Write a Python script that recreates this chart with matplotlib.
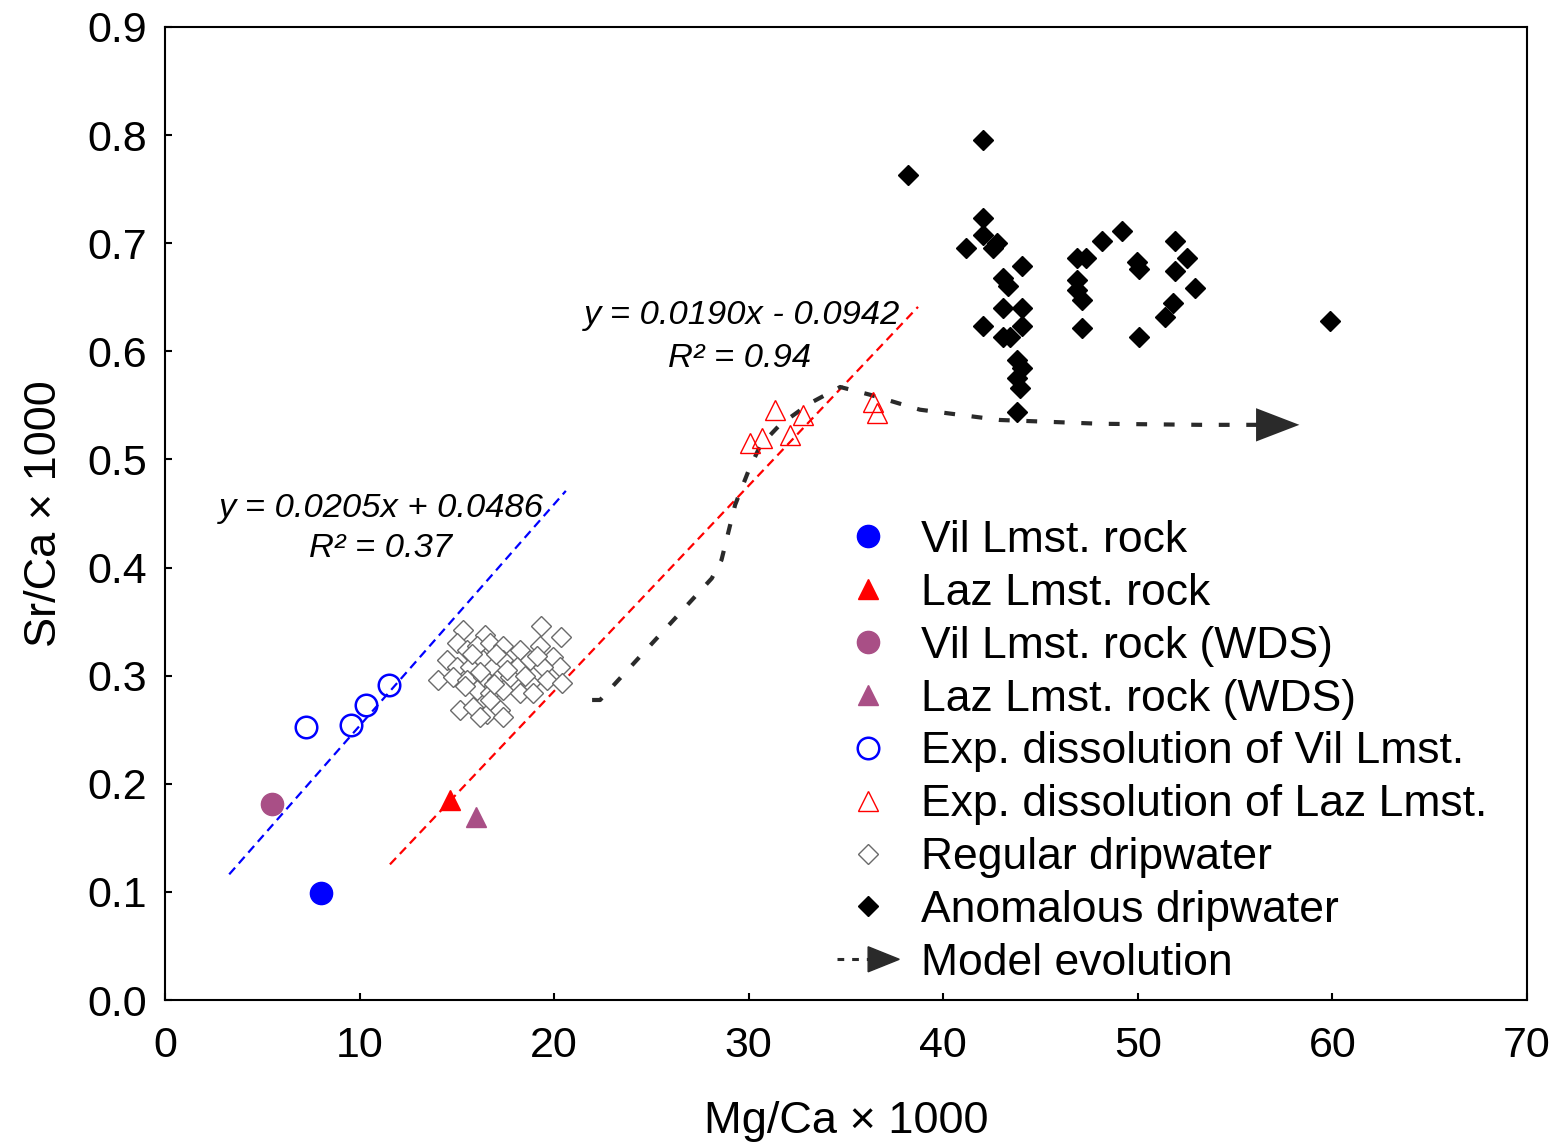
import matplotlib.pyplot as plt
from matplotlib.lines import Line2D
from matplotlib.patches import Polygon
from matplotlib.legend_handler import HandlerBase

plt.rcParams['font.family'] = ['Liberation Sans', 'DejaVu Sans']

# 岩石样品
vil_rock_x = [8.0]
vil_rock_y = [0.099]
laz_rock_x = [14.65]
laz_rock_y = [0.185]
vil_wds_x = [5.5]
vil_wds_y = [0.181]
laz_wds_x = [16.0]
laz_wds_y = [0.169]

# 溶解实验
exp_vil_x = [7.25, 9.56, 10.33, 11.5]
exp_vil_y = [0.2525, 0.254, 0.273, 0.291]
exp_laz_x = [30.07, 30.7, 31.35, 32.1, 32.8, 36.4, 36.6]
exp_laz_y = [0.515, 0.52, 0.546, 0.523, 0.541, 0.553, 0.543]

# 常规滴水
reg_x = [19.32, 20.35, 15.32, 16.45, 15.01, 15.52, 16.04, 16.70, 17.37, 18.25, 19.27,
         19.94, 20.30, 14.49, 15.01, 15.68, 16.34, 16.86, 17.37, 18.09, 18.76, 19.43,
         14.03, 14.80, 15.52, 16.34, 17.06, 17.73, 18.76, 19.63, 20.40, 16.04, 16.70,
         17.37, 18.25, 18.91, 15.16, 15.83, 16.55, 17.22, 17.37, 16.19, 16.70,
         15.80, 16.20, 17.00, 17.60, 18.50, 19.10, 15.40, 16.90]
reg_y = [0.346, 0.336, 0.342, 0.338, 0.330, 0.324, 0.327, 0.330, 0.327, 0.324, 0.327,
         0.317, 0.308, 0.3145, 0.308, 0.308, 0.3145, 0.308, 0.3145, 0.308, 0.3145, 0.308,
         0.296, 0.299, 0.296, 0.299, 0.296, 0.299, 0.293, 0.296, 0.293, 0.287, 0.284,
         0.287, 0.284, 0.284, 0.268, 0.271, 0.265, 0.268, 0.262, 0.262, 0.2775,
         0.320, 0.303, 0.320, 0.305, 0.300, 0.318, 0.290, 0.292]

# 异常滴水
anom_x = [38.19, 42.04, 42.04, 42.04, 41.17, 42.76, 42.56, 44.05, 43.07, 43.33, 43.07,
          44.05, 42.04, 44.05, 43.07, 43.43, 43.79, 44.05, 43.79, 43.94, 43.79, 46.87,
          47.33, 46.87, 46.87, 47.13, 47.13, 48.16, 49.19, 49.96, 50.06, 50.06, 51.91,
          52.53, 51.91, 52.94, 51.81, 51.40, 59.88]
anom_y = [0.763, 0.795, 0.723, 0.708, 0.696, 0.700, 0.696, 0.679, 0.668, 0.660, 0.640,
          0.640, 0.623, 0.623, 0.613, 0.613, 0.592, 0.585, 0.575, 0.566, 0.544, 0.686,
          0.686, 0.666, 0.657, 0.6475, 0.6216, 0.702, 0.711, 0.683, 0.676, 0.613, 0.702,
          0.686, 0.674, 0.659, 0.645, 0.632, 0.628]

# 模型演化
model_x = [21.95, 22.36, 28.1, 28.6, 29.3, 30.0, 30.6, 31.6, 33.15, 34.7, 36.2, 38.8,
           42.9, 48.05, 53.2, 58.3]
model_y = [0.2775, 0.2775, 0.390, 0.407, 0.458, 0.490, 0.513, 0.532, 0.552, 0.567,
           0.560, 0.546, 0.5365, 0.533, 0.532, 0.532]

# 拟合线: 斜率, 截距, x范围
vil_slope, vil_icpt, vil_x0, vil_x1 = 0.0205, 0.0486, 3.3, 20.6
laz_slope, laz_icpt, laz_x0, laz_x1 = 0.0190, -0.0942, 11.56, 38.7

xticks = [0, 10, 20, 30, 40, 50, 60, 70]
yticks = [0.0, 0.1, 0.2, 0.3, 0.4, 0.5, 0.6, 0.7, 0.8, 0.9]

BLUE = '#0000ff'
RED = '#ff0000'
PURPLE = '#a94f86'
DARK = '#2a2a2a'


class ArrowHandler(HandlerBase):
    # 图例里画 虚线+箭头
    def create_artists(self, legend, orig_handle, xdescent, ydescent, width, height, fontsize, trans):
        x0 = -xdescent
        y = height / 2 - ydescent
        line = Line2D([x0, x0 + width * 0.55], [y, y], color=DARK, lw=2.2,
                      dashes=(2.2, 2.6), transform=trans)
        head = Polygon([[x0 + width * 0.5, y - 9], [x0 + width, y], [x0 + width * 0.5, y + 9]],
                       closed=True, color=DARK, transform=trans)
        return [line, head]


fig = plt.figure(figsize=(15.67, 11.43), dpi=100)
ax = fig.add_axes([0.1053, 0.1251, 0.8692, 0.8513])

# 拟合线
ax.plot([vil_x0, vil_x1], [vil_slope * vil_x0 + vil_icpt, vil_slope * vil_x1 + vil_icpt],
        color=BLUE, lw=1.6, dashes=(4, 2.5), zorder=2)
ax.plot([laz_x0, laz_x1], [laz_slope * laz_x0 + laz_icpt, laz_slope * laz_x1 + laz_icpt],
        color=RED, lw=1.6, dashes=(4, 2.5), zorder=2)

# 模型演化
ax.plot(model_x, model_y, color=DARK, lw=3, dashes=(2.6, 4.0), zorder=3)
ax.annotate('', xy=(model_x[-1], model_y[-1]), xytext=(model_x[-1] - 1.2, model_y[-1]),
            arrowprops=dict(arrowstyle='-|>,head_length=1.3,head_width=0.5', color=DARK,
                            lw=0, mutation_scale=24, shrinkA=0, shrinkB=0), zorder=4)

h1, = ax.plot(vil_rock_x, vil_rock_y, 'o', color=BLUE, ms=16, ls='none', zorder=5)
h2, = ax.plot(laz_rock_x, laz_rock_y, '^', color=RED, ms=14.5, ls='none', zorder=5)
h3, = ax.plot(vil_wds_x, vil_wds_y, 'o', color=PURPLE, ms=16, ls='none', zorder=5)
h4, = ax.plot(laz_wds_x, laz_wds_y, '^', color=PURPLE, ms=14.5, ls='none', zorder=5)
h5, = ax.plot(exp_vil_x, exp_vil_y, 'o', mfc='none', mec=BLUE, mew=1.8, ms=15.5, ls='none', zorder=5)
h6, = ax.plot(exp_laz_x, exp_laz_y, '^', mfc='none', mec=RED, mew=1, ms=14.5, ls='none', zorder=5)
h7, = ax.plot(reg_x, reg_y, 'D', mfc='white', mec='#6a6a6a', mew=1, ms=10.5, ls='none', zorder=4)
h8, = ax.plot(anom_x, anom_y, 'D', color='black', ms=10.5, ls='none', zorder=5)
h9 = Line2D([], [], color=DARK)

ax.text(11.1, 0.455, 'y = 0.0205x + 0.0486', fontsize=24.8, style='italic', ha='center', va='center')
ax.text(11.1, 0.418, 'R\u00b2 = 0.37', fontsize=24.8, style='italic', ha='center', va='center')
ax.text(29.65, 0.633, 'y = 0.0190x - 0.0942', fontsize=24.8, style='italic', ha='center', va='center')
ax.text(29.55, 0.593, 'R\u00b2 = 0.94', fontsize=24.8, style='italic', ha='center', va='center')

labels = ['Vil Lmst. rock', 'Laz Lmst. rock', 'Vil Lmst. rock (WDS)', 'Laz Lmst. rock (WDS)',
          'Exp. dissolution of Vil Lmst.', 'Exp. dissolution of Laz Lmst.', 'Regular dripwater',
          'Anomalous dripwater', 'Model evolution']
ax.legend([h1, h2, h3, h4, h5, h6, h7, h8, h9], labels, handler_map={h9: ArrowHandler()},
          loc='upper left', bbox_to_anchor=(0.4934, 0.4934), frameon=False, fontsize=32,
          borderpad=0, borderaxespad=0, handlelength=1.4, handletextpad=0.5, labelspacing=0.267)

ax.set_xlim(0, 70)
ax.set_ylim(0, 0.9)
ax.set_xticks(xticks)
ax.set_yticks(yticks)
ax.set_yticklabels(['%.1f' % v for v in yticks])
ax.tick_params(direction='in', length=5, width=1.5, labelsize=31)
ax.tick_params(axis='x', pad=19)
ax.tick_params(axis='y', pad=13)
for s in ax.spines.values():
    s.set_linewidth(1.5)

ax.set_xlabel('Mg/Ca \u00d7 1000', fontsize=32.5, labelpad=25)
ax.set_ylabel('Sr/Ca \u00d7 1000', fontsize=32.5, labelpad=16)

fig.savefig('out.png', dpi=100)
